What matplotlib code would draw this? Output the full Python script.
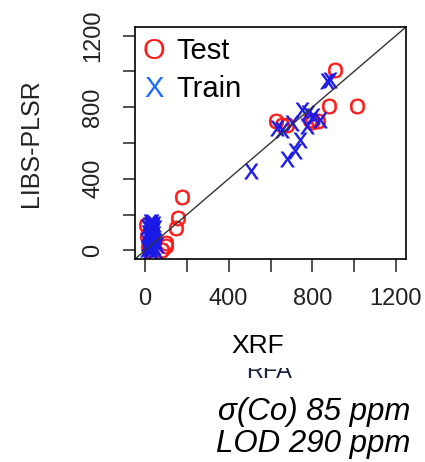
import numpy as np
import matplotlib
matplotlib.use('Agg')
import matplotlib.pyplot as plt
from matplotlib.transforms import Bbox

plt.rcParams['font.family'] = ['Liberation Sans', 'DejaVu Sans']
plt.rcParams['mathtext.default'] = 'regular'

# Test set (red O)
test_xrf = [5, 8, 12, 20, 30, 82, 101, 100, 146, 157, 178,
            624, 653, 677, 789, 800, 829, 882, 1013, 909]
test_libs = [140, 80, 20, 5, 50, 5, 40, 25, 126, 182, 300,
             722, 700, 703, 731, 715, 722, 809, 809, 1006]

# Train set (blue X)
train_xrf = [10, 15, 20, 25, 30, 35, 40, 45, 50, 20, 30, 40, 35, 25, 15,
             45, 50, 10, 55, 30, 20, 40, 25, 35, 30, 40, 20, 28, 38, 45,
             22, 32, 42, 18, 27, 36, 48, 30, 25, 35,
             509, 630, 653, 677, 701, 717, 741, 749, 773, 781, 805, 837, 869, 885]
train_libs = [10, 40, 80, 120, 150, 100, 60, 20, 5, 30, 0, 130, 160, 60, 100,
              90, 50, 130, 30, 90, 140, 110, 15, 35, 55, 75, 95, 115, 135, 150,
              5, 25, 45, 65, 85, 105, 125, 145, 160, 70,
              443, 684, 675, 512, 712, 554, 619, 787, 694, 768, 750, 731, 945, 954]

ticks = [0, 200, 400, 600, 800, 1000, 1200]
tick_labels = ['0', '', '400', '', '800', '', '1200']

W, H = 425, 462
fig = plt.figure(figsize=(W / 100, H / 100), dpi=100)
ax = fig.add_axes([135 / W, 1 - 259 / H, 271 / W, 232 / H])

ax.plot(test_xrf, test_libs, linestyle='none', marker='$O$', ms=11,
        color='#ff1a1a', mew=0.4)
ax.plot(train_xrf, train_libs, linestyle='none', marker='$X$', ms=11,
        color='#1a1ae6', mew=0.4)
ax.axline((0, 0), slope=1, color='#333333', lw=1)

ax.set_xlim(-48, 1248)
ax.set_ylim(-48, 1248)
ax.set_xticks(ticks)
ax.set_xticklabels(tick_labels)
ax.set_yticks(ticks)
ax.set_yticklabels(tick_labels, rotation=90, va='center')
ax.tick_params(length=9, width=1.1, labelsize=17, colors='#222222')
ax.tick_params(axis='x', pad=12)
ax.tick_params(axis='y', pad=13)
for sp in ax.spines.values():
    sp.set_linewidth(1.2)

# legend drawn as text, like R's pch letters
def ftext(x, y, s, **kw):
    return fig.text(x / W, 1 - y / H, s, **kw)

ftext(143, 59, 'O', color='#ff1a1a', fontsize=21, va='baseline')
ftext(176, 59, 'Test', color='black', fontsize=21, va='baseline')
ftext(144, 97, 'X', color='#1a6cff', fontsize=21, va='baseline')
ftext(176, 97, 'Train', color='black', fontsize=21, va='baseline')

ftext(31, 143, 'LIBS-PLSR', rotation=90, ha='center', va='center',
      fontsize=18, color='#222222')
ftext(258, 353, 'XRF', ha='center', va='baseline', fontsize=19)

rfa = ftext(269, 378, 'RFA', ha='center', va='baseline', fontsize=17,
            color='#1c2440')
rfa.set_clip_box(Bbox([[0, 0], [W, H - 368]]))
rfa.set_clip_on(True)

ftext(410, 420, 'σ(Co) 85 ppm', ha='right', va='baseline', fontsize=22.5,
      style='italic')
ftext(410, 452, 'LOD 290 ppm', ha='right', va='baseline', fontsize=22.5,
      style='italic')

fig.savefig('out.png', dpi=100)
plt.close(fig)
